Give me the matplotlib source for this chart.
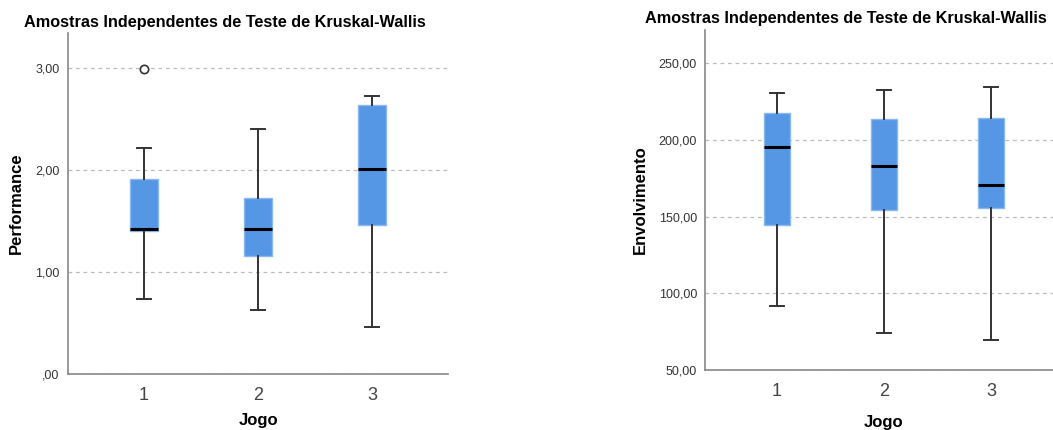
import matplotlib
matplotlib.use("Agg")
import matplotlib.pyplot as plt
import numpy as np

plt.rcParams['font.family'] = ['Liberation Sans', 'DejaVu Sans']

# grupos (Jogo)
jogos = ['1', '2', '3']

# Performance: bigode inferior, Q1, mediana, Q3, bigode superior
perf_lo = [0.73, 0.63, 0.46]
perf_q1 = [1.405, 1.16, 1.46]
perf_med = [1.425, 1.42, 2.01]
perf_q3 = [1.91, 1.72, 2.635]
perf_hi = [2.21, 2.40, 2.725]
perf_out = [[2.99], [], []]
perf_ticks = [0, 1, 2, 3]
perf_ticklabels = [',00', '1,00', '2,00', '3,00']

# Envolvimento
env_lo = [91.7, 73.9, 69.6]
env_q1 = [144.6, 154.3, 155.9]
env_med = [195.6, 182.8, 170.9]
env_q3 = [217.6, 213.5, 214.1]
env_hi = [230.6, 232.6, 234.8]
env_out = [[], [], []]
env_ticks = [50, 100, 150, 200, 250]
env_ticklabels = ['50,00', '100,00', '150,00', '200,00', '250,00']

titulo = 'Amostras Independentes de Teste de Kruskal-Wallis'

BOX = '#5596e5'
EDGE = '#8ab8f0'


def stats(lo, q1, med, q3, hi, out):
    return [dict(whislo=a, q1=b, med=c, q3=d, whishi=e, fliers=f)
            for a, b, c, d, e, f in zip(lo, q1, med, q3, hi, out)]


def boxplot(ax, st, ylim, ticks, ticklabels, ylabel, title_x, title_pad, xlab_pad):
    ax.bxp(st, positions=[1, 2, 3], widths=0.245, capwidths=0.13,
           patch_artist=True, showfliers=True,
           boxprops=dict(facecolor=BOX, edgecolor=EDGE, linewidth=1),
           medianprops=dict(color='black', linewidth=2.2),
           whiskerprops=dict(color='#333333', linewidth=1.4),
           capprops=dict(color='#333333', linewidth=1.4),
           flierprops=dict(marker='o', markerfacecolor='white',
                           markeredgecolor='#333333', markersize=6,
                           markeredgewidth=1.2))
    ax.set_xlim(1 / 3, 3 + 2 / 3)
    ax.set_ylim(*ylim)
    ax.set_yticks(ticks)
    ax.set_yticklabels(ticklabels)
    ax.set_xticks([1, 2, 3])
    ax.set_xticklabels(jogos)
    ax.yaxis.grid(True, linestyle=(0, (3, 3)), color='#bbbbbb', linewidth=0.9)
    ax.set_axisbelow(True)
    for s in ['top', 'right']:
        ax.spines[s].set_visible(False)
    for s in ['left', 'bottom']:
        ax.spines[s].set_color('#888888')
        ax.spines[s].set_linewidth(1.2)
    ax.tick_params(axis='y', length=0, labelsize=9, labelcolor='#333333', pad=6)
    ax.tick_params(axis='x', length=0, labelsize=13, labelcolor='#444444', pad=9)
    ax.set_ylabel(ylabel, fontsize=12, fontweight='bold', labelpad=8)
    ax.set_xlabel('Jogo', fontsize=12, fontweight='bold', labelpad=xlab_pad)
    ax.set_title(titulo, fontsize=11.7, fontweight='bold', x=title_x, pad=title_pad)


fig = plt.figure(figsize=(10.53, 4.30), dpi=100)
ax1 = fig.add_axes([0.0646, 0.1302, 0.3609, 0.7931])
ax2 = fig.add_axes([0.6698, 0.1395, 0.3390, 0.7907])

boxplot(ax1, stats(perf_lo, perf_q1, perf_med, perf_q3, perf_hi, perf_out),
        (0, 3.34), perf_ticks, perf_ticklabels, 'Performance', 0.413, 4, 7)
boxplot(ax2, stats(env_lo, env_q1, env_med, env_q3, env_hi, env_out),
        (50, 271.7), env_ticks, env_ticklabels, 'Envolvimento', 0.394, 5, 11)

fig.savefig('out.png', dpi=100)
